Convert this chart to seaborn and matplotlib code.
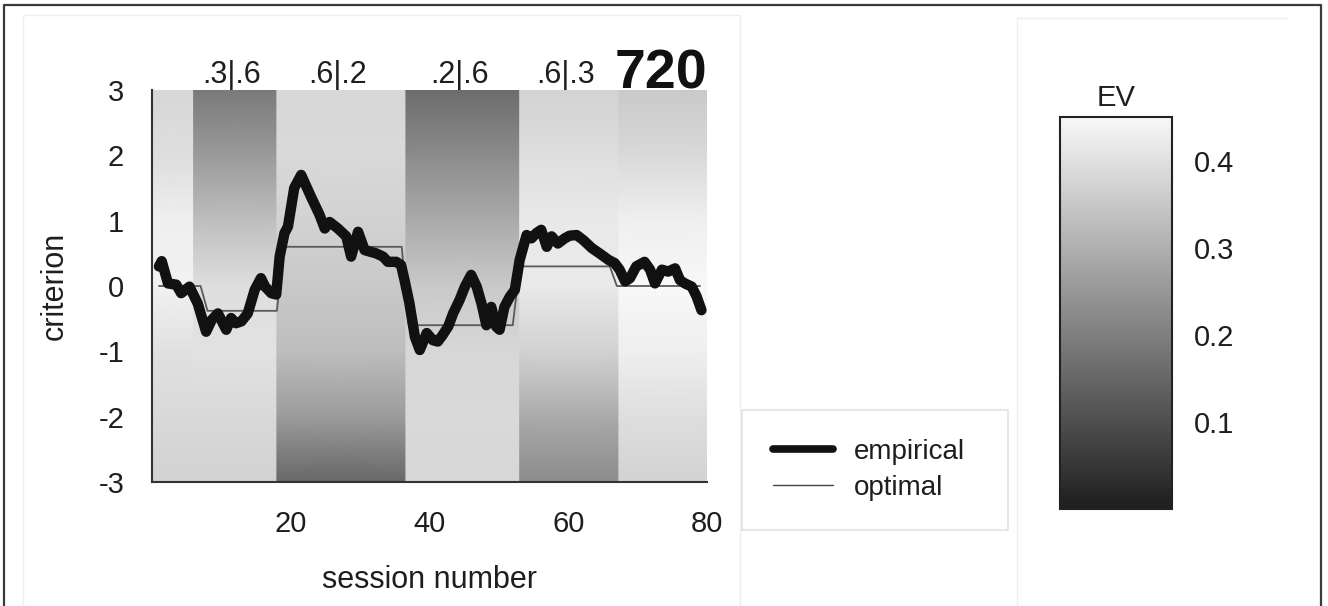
import numpy as np
import matplotlib
matplotlib.use("Agg")
import matplotlib.pyplot as plt
import seaborn as sns
from matplotlib.colors import LinearSegmentedColormap
from matplotlib.lines import Line2D
from matplotlib.patches import Rectangle

# ---------------------------------------------------------------- data
# empirical decision criterion across sessions
emp_session = [1.0, 1.4, 2.3, 3.5, 4.2, 5.4, 6.6, 7.8, 8.6, 9.5, 10.7, 11.4, 12.1, 12.9,
               13.8, 14.8, 15.7, 16.3, 17.2, 17.9, 18.4, 19.1, 19.6, 20.5, 21.5, 22.9,
               24.15, 24.9, 25.6, 26.8, 28.0, 28.7, 29.7, 30.65, 31.6, 32.3, 33.3, 34.0,
               35.2, 35.9, 36.4, 37.1, 37.9, 38.6, 39.6, 40.5, 41.2, 41.9, 42.7, 43.4,
               44.35, 45.1, 46.0, 46.8, 47.5, 48.2, 48.9, 49.6, 50.1, 50.8, 51.6, 52.3,
               53.0, 54.0, 54.7, 55.4, 56.1, 56.9, 57.6, 58.5, 59.5, 60.2, 61.2, 62.2,
               63.4, 64.5, 65.8, 66.7, 67.4, 68.2, 68.9, 69.8, 71.0, 71.8, 72.5, 73.5,
               74.4, 75.4, 76.1, 76.8, 77.8, 78.5, 79.2]
emp_criterion = [0.30, 0.38, 0.04, 0.02, -0.11, -0.01, -0.27, -0.70, -0.52, -0.42, -0.67,
                 -0.49, -0.57, -0.54, -0.42, -0.06, 0.12, -0.01, -0.11, -0.13, 0.45, 0.81,
                 0.91, 1.50, 1.70, 1.37, 1.09, 0.88, 0.98, 0.88, 0.76, 0.45, 0.83, 0.55,
                 0.52, 0.50, 0.45, 0.37, 0.37, 0.32, 0.09, -0.26, -0.78, -0.98, -0.72,
                 -0.83, -0.85, -0.75, -0.62, -0.42, -0.21, -0.01, 0.17, -0.01, -0.27,
                 -0.60, -0.32, -0.62, -0.67, -0.32, -0.16, -0.06, 0.40, 0.78, 0.73, 0.81,
                 0.86, 0.60, 0.76, 0.65, 0.73, 0.77, 0.78, 0.70, 0.58, 0.50, 0.40, 0.35,
                 0.25, 0.07, 0.12, 0.30, 0.37, 0.25, 0.04, 0.25, 0.22, 0.27, 0.09, 0.04,
                 -0.01, -0.16, -0.37]

# optimal criterion for each payoff regime, and how many sessions each lasted
regime_optimal = [0.0, -0.38, 0.60, -0.60, 0.30, 0.0]
regime_sessions = [7, 11, 18, 16, 14, 13]
opt_criterion = np.repeat(regime_optimal, regime_sessions)
opt_session = np.arange(1, len(opt_criterion) + 1)

# expected-value background: block edges (sessions) and EV per criterion level
block_edges = [0, 6, 18, 36.6, 53, 67.3, 80]
block_labels = ["", ".3|.6", ".6|.2", ".2|.6", ".6|.3", ""]
criterion_levels = [3, 2, 1, 0, -1, -2, -3]
ev_block_1 = [0.380, 0.397, 0.430, 0.435, 0.400, 0.386, 0.370]
ev_block_2 = [0.190, 0.255, 0.330, 0.397, 0.403, 0.386, 0.370]
ev_block_3 = [0.380, 0.386, 0.370, 0.353, 0.327, 0.257, 0.150]
ev_block_4 = [0.160, 0.226, 0.290, 0.353, 0.380, 0.386, 0.380]
ev_block_5 = [0.370, 0.397, 0.420, 0.420, 0.370, 0.290, 0.226]
ev_block_6 = [0.353, 0.386, 0.430, 0.450, 0.430, 0.397, 0.370]
ev_blocks = [ev_block_1, ev_block_2, ev_block_3, ev_block_4, ev_block_5, ev_block_6]

subject_id = "720"
cbar_ticks = [0.1, 0.2, 0.3, 0.4]

# ---------------------------------------------------------------- style
sns.set_theme(style="white")
plt.rcParams["font.family"] = ["Liberation Sans", "DejaVu Sans"]
plt.rcParams["axes.unicode_minus"] = False
TXT = "#1e1e1e"

W, H = 1328, 606
fig = plt.figure(figsize=(W / 100, H / 100), dpi=100)
fig.patch.set_facecolor("white")


def fx(px):
    return px / W


def fy(py):
    return 1 - py / H


cmap = LinearSegmentedColormap.from_list("ev_gray", ["#1e1e1e", "#f8f8f8"])

# ---------------------------------------------------------------- panels
fig.add_artist(Rectangle((fx(23), fy(640)), fx(740) - fx(23), fy(15) - fy(640),
                         transform=fig.transFigure, facecolor="none",
                         edgecolor="#efefef", lw=1.0))
fig.add_artist(Line2D([fx(1017), fx(1017), fx(1287)], [fy(640), fy(18), fy(18)],
                      transform=fig.transFigure, color="#efefef", lw=1.0))
fig.add_artist(Line2D([fx(4), fx(4), fx(1321), fx(1321)], [fy(640), fy(5), fy(5), fy(640)],
                      transform=fig.transFigure, color="#3a3a3a", lw=1.6))

# ---------------------------------------------------------------- main axes
ax = fig.add_axes([fx(152), fy(482), fx(707) - fx(152), fy(90) - fy(482)])
mesh = None
for i, ev in enumerate(ev_blocks):
    X, Y = np.meshgrid([block_edges[i], block_edges[i + 1]], criterion_levels)
    C = np.column_stack([ev, ev])
    mesh = ax.pcolormesh(X, Y, C, shading="gouraud", cmap=cmap, vmin=0, vmax=0.45,
                         zorder=0)

sns.lineplot(x=opt_session, y=opt_criterion, ax=ax, color="#5a5a5a", linewidth=1.3,
             estimator=None, zorder=2)
sns.lineplot(x=emp_session, y=emp_criterion, ax=ax, color="#111111", linewidth=7.5,
             estimator=None, sort=False, solid_capstyle="round",
             solid_joinstyle="round", zorder=3)

ax.set_xlim(0, 80)
ax.set_ylim(-3, 3)
ax.set_xticks([20, 40, 60, 80])
ax.set_yticks([-3, -2, -1, 0, 1, 2, 3])
ax.tick_params(axis="x", direction="in", length=5, width=1.2, color="#333333",
               labelsize=21, labelcolor=TXT, pad=20)
ax.tick_params(axis="y", direction="in", length=5, width=1.2, color="#333333",
               labelsize=21, labelcolor=TXT, pad=20)
for side in ("top", "right"):
    ax.spines[side].set_visible(False)
for side in ("left", "bottom"):
    ax.spines[side].set_color("#333333")
    ax.spines[side].set_linewidth(1.5)
    ax.spines[side].set_zorder(5)

ax.set_xlabel("session number", fontsize=22, color=TXT)
ax.set_ylabel("criterion", fontsize=22, color=TXT)
ax.xaxis.set_label_coords(0.5, (482 - 580) / 392)
ax.xaxis.label.set_verticalalignment("center")
ax.yaxis.set_label_coords((55 - 152) / 555, 0.5)
ax.yaxis.label.set_verticalalignment("center")

for i, lab in enumerate(block_labels):
    if lab:
        xc = 0.5 * (block_edges[i] + block_edges[i + 1]) - 0.5
        ax.text(xc, 3.1, lab, ha="center", va="baseline", fontsize=22, color=TXT,
                clip_on=False)
ax.text(80, 3.02, subject_id, ha="right", va="baseline", fontsize=40,
        fontweight="bold", color="#111111", clip_on=False)

# ---------------------------------------------------------------- legend
fig.add_artist(Rectangle((fx(742), fy(530)), fx(1008) - fx(742), fy(410) - fy(530),
                         transform=fig.transFigure, facecolor="white",
                         edgecolor="#e2e2e2", lw=1.2))
handles = [Line2D([], [], color="#111111", lw=5.5, solid_capstyle="round"),
           Line2D([], [], color="#444444", lw=1.0)]
fig.legend(handles, ["empirical", "optimal"], loc="center left",
           bbox_to_anchor=(fx(773), fy(469.7)), frameon=False, fontsize=20,
           handlelength=2.16, handletextpad=0.75, labelspacing=0.37,
           borderpad=0, borderaxespad=0, labelcolor=TXT)

# ---------------------------------------------------------------- colorbar
cax = fig.add_axes([fx(1060), fy(509), fx(1172) - fx(1060), fy(117) - fy(509)])
cb = fig.colorbar(mesh, cax=cax)
cb.set_ticks(cbar_ticks)
cb.set_ticklabels([f"{t:.1f}" for t in cbar_ticks])
cax.tick_params(direction="in", left=True, right=True, labelleft=False,
                labelright=True, length=5, width=1.2, color="#222222",
                labelsize=21, labelcolor=TXT, pad=16)
cb.outline.set_linewidth(1.5)
cb.outline.set_edgecolor("#222222")
cax.set_title("EV", fontsize=21, color=TXT, pad=8)

fig.savefig("out.png", dpi=100, facecolor="white")
